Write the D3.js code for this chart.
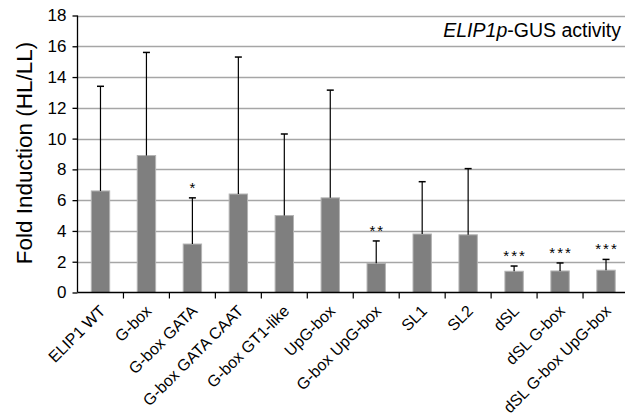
<!doctype html>
<meta charset="utf-8">
<title>ELIP1p-GUS activity</title>
<script src="https://cdn.jsdelivr.net/npm/d3@7"></script>
<style>
  body { margin: 0; background: #fff; }
  text { font-family: "Liberation Sans", Arial, sans-serif; }
</style>
<body>
<svg id="chart" width="625" height="416"></svg>
<script>

var categories = ['ELIP1 WT', 'G-box', 'G-box GATA', 'G-box GATA CAAT', 'G-box GT1-like',
  'UpG-box', 'G-box UpG-box', 'SL1', 'SL2', 'dSL', 'dSL G-box', 'dSL G-box UpG-box'];
var means = [6.6, 8.9, 3.15, 6.4, 5.0, 6.15, 1.9, 3.8, 3.75, 1.38, 1.4, 1.45];
var errTops = [13.4, 15.6, 6.15, 15.3, 10.3, 13.15, 3.35, 7.2, 8.05, 1.72, 1.92, 2.15];
var stars = ['', '', '*', '', '', '', '**', '', '', '***', '***', '***'];
var yTicks = [0, 2, 4, 6, 8, 10, 12, 14, 16, 18];

var plotLeft = 77.5, plotRight = 629, plotTop = 15.5, plotBottom = 292.5;

var svg = d3.select('#chart');

var x = d3.scaleBand().domain(categories).range([plotLeft, plotRight]).paddingInner(0.6).paddingOuter(0.3);
var band = d3.scaleBand().domain(categories).range([plotLeft, plotRight]);
var y = d3.scaleLinear().domain([0, 18]).range([plotBottom, plotTop]);

// gridlines
svg.append('g')
  .selectAll('line')
  .data(yTicks.slice(1))
  .enter().append('line')
  .attr('x1', plotLeft).attr('x2', 625)
  .attr('y1', function(d) { return Math.round(y(d)) + 0.5 })
  .attr('y2', function(d) { return Math.round(y(d)) + 0.5 })
  .style('stroke', '#a6a6a6')
  .style('stroke-width', 1.3);

// bars
svg.append('g')
  .selectAll('rect')
  .data(categories)
  .enter().append('rect')
  .attr('x', function(d) { return x(d) })
  .attr('width', x.bandwidth())
  .attr('y', function(d, i) { return y(means[i]) })
  .attr('height', function(d, i) { return plotBottom - y(means[i]) })
  .style('fill', '#7f7f7f')
  .style('stroke', '#b4b4b4')
  .style('stroke-width', 1);

// error bars (upper only)
var eb = svg.append('g').selectAll('g')
  .data(categories)
  .enter().append('g');

eb.append('line')
  .attr('x1', function(d) { return x(d) + x.bandwidth() / 2 })
  .attr('x2', function(d) { return x(d) + x.bandwidth() / 2 })
  .attr('y1', function(d, i) { return y(means[i]) })
  .attr('y2', function(d, i) { return y(errTops[i]) })
  .style('stroke', '#000').style('stroke-width', 1.2);

eb.append('line')
  .attr('x1', function(d) { return x(d) + x.bandwidth() / 2 - 3.5 })
  .attr('x2', function(d) { return x(d) + x.bandwidth() / 2 + 3.5 })
  .attr('y1', function(d, i) { return y(errTops[i]) })
  .attr('y2', function(d, i) { return y(errTops[i]) })
  .style('stroke', '#000').style('stroke-width', 1.5);

// significance stars
svg.append('g')
  .selectAll('text')
  .data(categories)
  .enter().append('text')
  .attr('x', function(d) { return x(d) + x.bandwidth() / 2 + 1 })
  .attr('y', function(d, i) { return y(errTops[i]) - 5 })
  .attr('text-anchor', 'middle')
  .style('font-size', '15px')
  .style('letter-spacing', '2px')
  .text(function(d, i) { return stars[i] });

// y axis
var yAxis = svg.append('g')
  .attr('transform', 'translate(' + plotLeft + ',0)')
  .call(d3.axisLeft(y).tickValues(yTicks).tickSize(5).tickPadding(6));
yAxis.select('.domain').attr('d', 'M0,' + plotTop + 'V' + plotBottom).style('stroke-width', 1.3);
yAxis.selectAll('.tick line').style('stroke-width', 1.3);
yAxis.selectAll('text')
  .style('font-size', '17px')
  .style('font-family', '"Liberation Sans", Arial, sans-serif')
  .attr('fill', '#000');

// x axis
var xAxis = svg.append('g')
  .attr('transform', 'translate(0,' + plotBottom + ')');
xAxis.append('line')
  .attr('x1', plotLeft).attr('x2', 625)
  .style('stroke', '#000').style('stroke-width', 1.3);
xAxis.selectAll('line.tick')
  .data(categories)
  .enter().append('line')
  .classed('tick', true)
  .attr('x1', function(d) { return band(d) + band.bandwidth() })
  .attr('x2', function(d) { return band(d) + band.bandwidth() })
  .attr('y1', 0).attr('y2', 6)
  .style('stroke', '#000').style('stroke-width', 1.2);
xAxis.selectAll('text')
  .data(categories)
  .enter().append('text')
  .attr('transform', function(d) {
    return 'translate(' + (x(d) + x.bandwidth() / 2 + 2) + ',15.5) rotate(-45)';
  })
  .attr('text-anchor', 'end')
  .attr('dy', '0.35em')
  .style('font-size', '16px')
  .text(function(d) { return d });

// y title
svg.append('text')
  .attr('transform', 'translate(32,153) rotate(-90)')
  .attr('text-anchor', 'middle')
  .style('font-size', '22.5px')
  .text('Fold Induction (HL/LL)');

// panel title
var title = svg.append('text')
  .attr('x', 621).attr('y', 37)
  .attr('text-anchor', 'end')
  .style('font-size', '19.5px');
title.append('tspan').style('font-style', 'italic').text('ELIP1p');
title.append('tspan').text('-GUS activity');

</script>
</body>
